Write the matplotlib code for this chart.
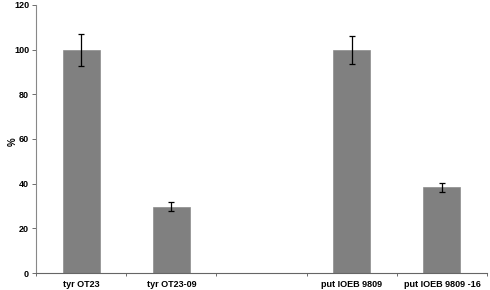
import numpy as np
import matplotlib
matplotlib.use('Agg')
import matplotlib.pyplot as plt

# data
labels = ['tyr OT23', 'tyr OT23-09', '', 'put IOEB 9809', 'put IOEB 9809 -16']
values = [100, 29.7, 0, 100, 38.3]
errors = [7.2, 1.9, 0, 6.3, 2.2]
y_ticks = [0, 20, 40, 60, 80, 100, 120]

plt.rcParams['font.family'] = ['Liberation Sans', 'DejaVu Sans']
plt.rcParams['font.weight'] = 'bold'

fig = plt.figure(figsize=(4.9, 2.9), dpi=100)
ax = fig.add_axes([0.0735, 0.0586, 0.9205, 0.9244])

x = np.arange(len(labels))
show = [v > 0 for v in values]
xs = x[show]
vs = np.array(values)[show]
es = np.array(errors)[show]
ax.bar(xs, vs, width=0.41, color='#808080', edgecolor='#8c8c8c', linewidth=0.5, zorder=2)
ax.errorbar(xs, vs, yerr=es, fmt='none', ecolor='black', elinewidth=0.9,
            capsize=2, capthick=0.9, zorder=3)

ax.set_xlim(-0.5, len(labels) - 0.5)
ax.set_ylim(0, 120)
ax.set_yticks(y_ticks)
ax.set_xticks(x)
ax.set_xticklabels(labels)
ax.set_xticks(np.arange(len(labels) + 1) - 0.5, minor=True)
ax.tick_params(axis='x', which='major', length=0, pad=5, labelsize=6.5)
ax.tick_params(axis='x', which='minor', length=2.5, width=0.6, direction='out', color='#555555')
ax.tick_params(axis='y', length=3, width=0.6, labelsize=6.5, pad=2, color='#555555')

for s in ['top', 'right']:
    ax.spines[s].set_visible(False)
ax.spines['left'].set_color('#888888')
ax.spines['left'].set_linewidth(0.8)
ax.spines['bottom'].set_color('#666666')
ax.spines['bottom'].set_linewidth(0.8)

ax.set_ylabel('%', fontsize=7, fontweight='bold')
ax.yaxis.set_label_coords(-0.041, 0.49)

plt.savefig('out.png', dpi=100)
plt.close()
